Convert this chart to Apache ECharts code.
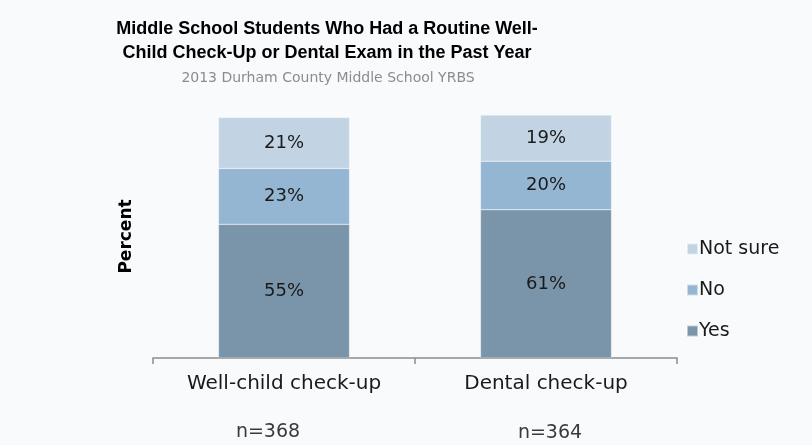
<!DOCTYPE html>
<html>
<head>
<meta charset="utf-8">
<script src="https://cdn.jsdelivr.net/npm/echarts@6/dist/echarts.min.js"></script>
<style>
  html, body { margin: 0; padding: 0; background: #f9fafc; }
  #chart { width: 812px; height: 445px; }
</style>
</head>
<body>
<div id="chart"></div>
<script>
// Survey categories and sample sizes
const categories = ['Well-child check-up', 'Dental check-up'];
const sampleSizes = ['n=368', 'n=364'];

// Percent of students per response
const yesValues = [55, 61];
const noValues = [23, 20];
const notSureValues = [21, 19];

const FONT = '"DejaVu Sans", sans-serif';
const TITLE_FONT = '"Liberation Sans", Arial, sans-serif';
const colors = { yes: '#7a95aa', no: '#95b6d3', notSure: '#c2d4e3' };

// Where the sample-size notes sit under each category
const sampleNotePos = [[268, 432], [550, 433]];

const chart = echarts.init(document.getElementById('chart'));

function seriesOf(name, data, color) {
  return {
    name: name,
    type: 'bar',
    stack: 'total',
    barWidth: '50%',
    data: data,
    itemStyle: { color: color, borderColor: 'rgba(255,255,255,0.5)', borderWidth: 0.5 },
    label: {
      show: true,
      position: 'inside',
      formatter: '{c}%',
      color: '#1a1a1a',
      fontFamily: FONT,
      fontSize: 18
    }
  };
}

chart.setOption({
  backgroundColor: '#f9fafc',
  animation: false,
  title: [
    {
      text: 'Middle School Students Who Had a Routine Well-\nChild Check-Up or Dental Exam in the Past Year',
      left: 322,
      top: 12,
      textAlign: 'center',
      textStyle: { fontFamily: TITLE_FONT, fontWeight: 'bold', fontSize: 18, lineHeight: 24, color: '#000' }
    },
    {
      text: '2013 Durham County Middle School YRBS',
      left: 323,
      top: 66,
      textAlign: 'center',
      textStyle: { fontFamily: FONT, fontWeight: 'normal', fontSize: 14, color: '#8c8c8c' }
    }
  ],
  legend: {
    orient: 'vertical',
    left: 681,
    top: 234,
    itemWidth: 11,
    itemHeight: 11,
    itemGap: 21,
    icon: 'rect',
    data: ['Not sure', 'No', 'Yes'],
    textStyle: { fontFamily: FONT, fontSize: 19, lineHeight: 20, color: '#1a1a1a', padding: [0, 0, 0, -4] }
  },
  grid: { left: 153, right: 135, top: 115, bottom: 87, outerBoundsMode: 'none', containLabel: false },
  xAxis: {
    type: 'category',
    data: categories,
    axisLine: { lineStyle: { color: '#8c8c8c', width: 1.5 } },
    axisTick: { show: true, length: 6, lineStyle: { color: '#8c8c8c', width: 1.5 } },
    axisLabel: {
      margin: 16,
      fontFamily: FONT,
      fontSize: 20,
      color: '#1a1a1a'
    }
  },
  yAxis: {
    type: 'value',
    min: 0,
    max: 100,
    name: 'Percent',
    nameLocation: 'middle',
    nameGap: 18,
    nameRotate: 90,
    nameTextStyle: { fontFamily: FONT, fontWeight: 'bold', fontSize: 17, color: '#000' },
    axisLabel: { show: false },
    axisLine: { show: false },
    axisTick: { show: false },
    splitLine: { show: false }
  },
  graphic: sampleSizes.map(function (txt, i) {
    return {
      type: 'text',
      x: sampleNotePos[i][0],
      y: sampleNotePos[i][1],
      style: {
        text: txt,
        align: 'center',
        verticalAlign: 'middle',
        fontFamily: FONT,
        fontSize: 19,
        fill: '#3a3a3a'
      }
    };
  }),
  series: [
    seriesOf('Yes', yesValues, colors.yes),
    seriesOf('No', noValues, colors.no),
    seriesOf('Not sure', notSureValues, colors.notSure)
  ]
});
</script>
</body>
</html>
